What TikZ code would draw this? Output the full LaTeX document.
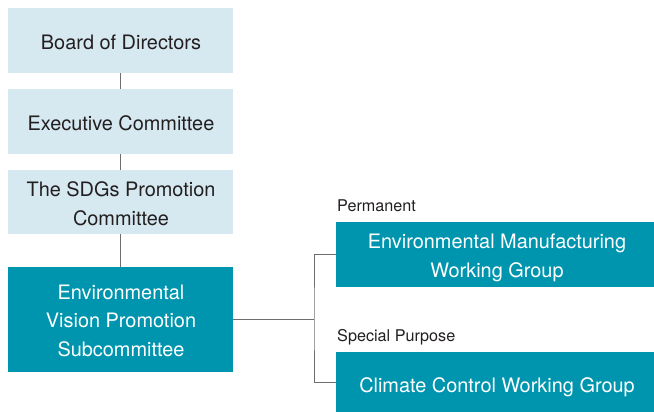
\documentclass[tikz,border=0pt]{standalone}
\usepackage{fontspec}
\setmainfont{TeX Gyre Heros}
\definecolor{lightbox}{RGB}{214,232,240}
\definecolor{tealbox}{RGB}{0,149,174}
\definecolor{linegray}{RGB}{110,110,110}
\definecolor{textdark}{RGB}{35,31,32}
\tikzset{
  lightnode/.style={fill=lightbox, inner sep=0pt, minimum width=225pt},
  tealnode/.style={fill=tealbox, inner sep=0pt},
  boxtext/.style={align=center, inner sep=0pt, anchor=base, font=\fontsize{19.9}{28.5}\selectfont},
  darktext/.style={boxtext, text=textdark},
  whitetext/.style={boxtext, text=white},
  conn/.style={draw=linegray, line width=1pt},
  caption/.style={text=textdark, inner sep=0pt, anchor=base west, font=\fontsize{16.2}{19}\selectfont}
}
\begin{document}
\begin{tikzpicture}[x=1pt,y=1pt]
\useasboundingbox (0,0) rectangle (654,-412);
\node[lightnode, minimum height=65pt] (b1) at (120.5,-40.5) {};
\node[lightnode, minimum height=65pt] (b2) at (120.5,-121.5) {};
\node[lightnode, minimum height=64pt] (b3) at (120.5,-202) {};
\node[tealnode, minimum width=225pt, minimum height=105pt] (b4) at (120.5,-319.5) {};
\node[tealnode, minimum width=318pt, minimum height=65pt] (b5) at (495,-254.5) {};
\node[tealnode, minimum width=318pt, minimum height=60pt] (b6) at (495,-382) {};
\node[darktext] (t1) at (121,-50) {Board of Directors};
\node[darktext] (t2) at (121,-131) {Executive Committee};
\node[darktext] (t3) at (121,-225) {The SDGs Promotion\\Committee};
\node[whitetext] (t4) at (121,-356) {Environmental\\Vision Promotion\\Subcommittee};
\node[whitetext] (t5) at (497,-277) {Environmental Manufacturing\\Working Group};
\node[whitetext] (t6) at (497,-392) {Climate Control Working Group};
\node[caption] (l1) at (337,-211) {Permanent};
\node[caption] (l2) at (337,-341) {Special Purpose};
\coordinate (j) at (314,-319.5);
\draw[conn] (b1.south) -- (b2.north);
\draw[conn] (b2.south) -- (b3.north);
\draw[conn] (b3.south) -- (b4.north);
\draw[conn] (b4.east) -- (j);
\draw[conn] (b5.west) -| (j) |- (b6.west);
\end{tikzpicture}
\end{document}
